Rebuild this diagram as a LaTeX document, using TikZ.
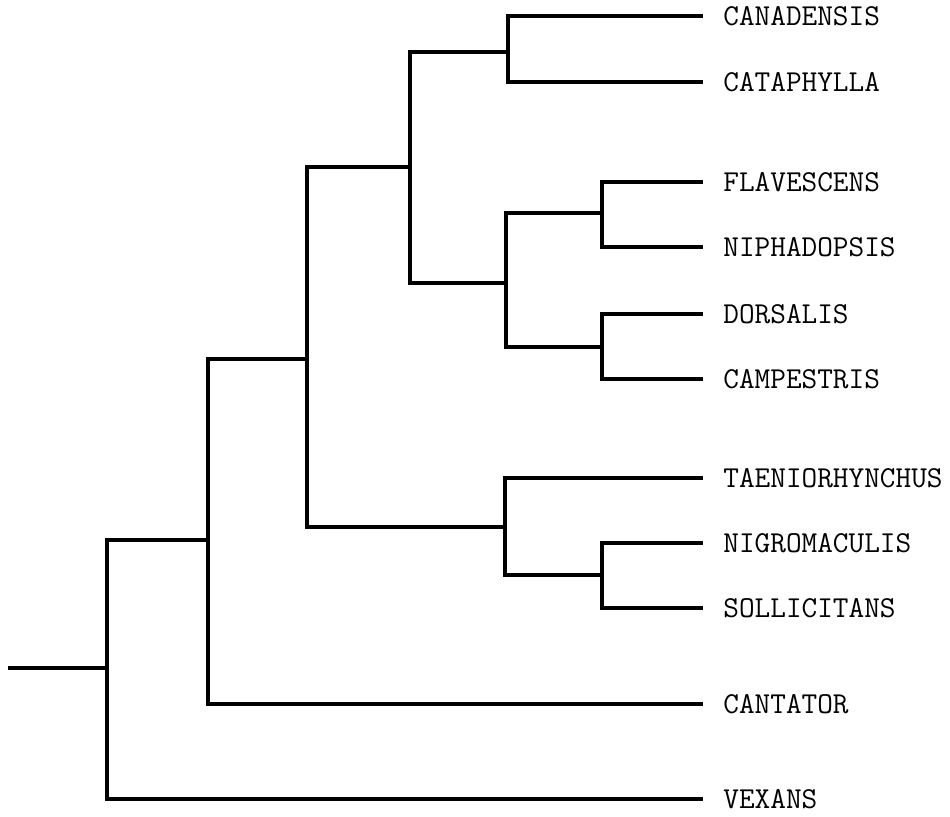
\documentclass[tikz,border=0pt]{standalone}
\begin{document}
\begin{tikzpicture}[x=0.5pt,y=-0.5pt,
	branch/.style={line width=1.6pt,shorten >=10pt},
	taxon/.style={anchor=west,inner sep=0pt,font=\fontsize{15.2}{18}\selectfont\ttfamily}]
	\useasboundingbox (0,0) rectangle (950,816);
	\node[taxon] (Can) at (723,16) {CANADENSIS};
	\node[taxon] (Cat) at (723,82) {CATAPHYLLA};
	\node[taxon] (Fla) at (723,182) {FLAVESCENS};
	\node[taxon] (Nip) at (723,247) {NIPHADOPSIS};
	\node[taxon] (Dor) at (723,314) {DORSALIS};
	\node[taxon] (Cam) at (723,379) {CAMPESTRIS};
	\node[taxon] (Tae) at (723,478) {TAENIORHYNCHUS};
	\node[taxon] (Nig) at (723,543) {NIGROMACULIS};
	\node[taxon] (Sol) at (723,608) {SOLLICITANS};
	\node[taxon] (Cant) at (723,704) {CANTATOR};
	\node[taxon] (Vex) at (723,799) {VEXANS};
	
	\coordinate (jCC) at (508,52);
	\coordinate (jFN) at (602,213);
	\coordinate (jDC) at (602,347);
	\coordinate (jFD) at (506,283);
	\coordinate (jTop) at (410,167);
	\coordinate (jNS) at (602,575);
	\coordinate (jTNS) at (505,527);
	\coordinate (jMid) at (307,359);
	\coordinate (jCant) at (208,540);
	\coordinate (jRoot) at (107,668);
	\coordinate (root) at (8,668);
	
	\draw [branch] (jCC) |- (Can.west);
	\draw [branch] (jCC) |- (Cat.west);
	\draw [branch] (jFN) |- (Fla.west);
	\draw [branch] (jFN) |- (Nip.west);
	\draw [branch] (jDC) |- (Dor.west);
	\draw [branch] (jDC) |- (Cam.west);
	\draw [branch] (jNS) |- (Nig.west);
	\draw [branch] (jNS) |- (Sol.west);
	\draw [branch] (jTNS) |- (Tae.west);
	\draw [branch] (jCant) |- (Cant.west);
	\draw [branch] (jRoot) |- (Vex.west);
	
	\draw [branch,shorten >=0pt] (jFD) |- (jFN);
	\draw [branch,shorten >=0pt] (jFD) |- (jDC);
	\draw [branch,shorten >=0pt] (jTop) |- (jCC);
	\draw [branch,shorten >=0pt] (jTop) |- (jFD);
	\draw [branch,shorten >=0pt] (jTNS) |- (jNS);
	\draw [branch,shorten >=0pt] (jMid) |- (jTop);
	\draw [branch,shorten >=0pt] (jMid) |- (jTNS);
	\draw [branch,shorten >=0pt] (jCant) |- (jMid);
	\draw [branch,shorten >=0pt] (jRoot) |- (jCant);
	\draw [branch,shorten >=0pt] (root) -- (jRoot);
\end{tikzpicture}
\end{document}
